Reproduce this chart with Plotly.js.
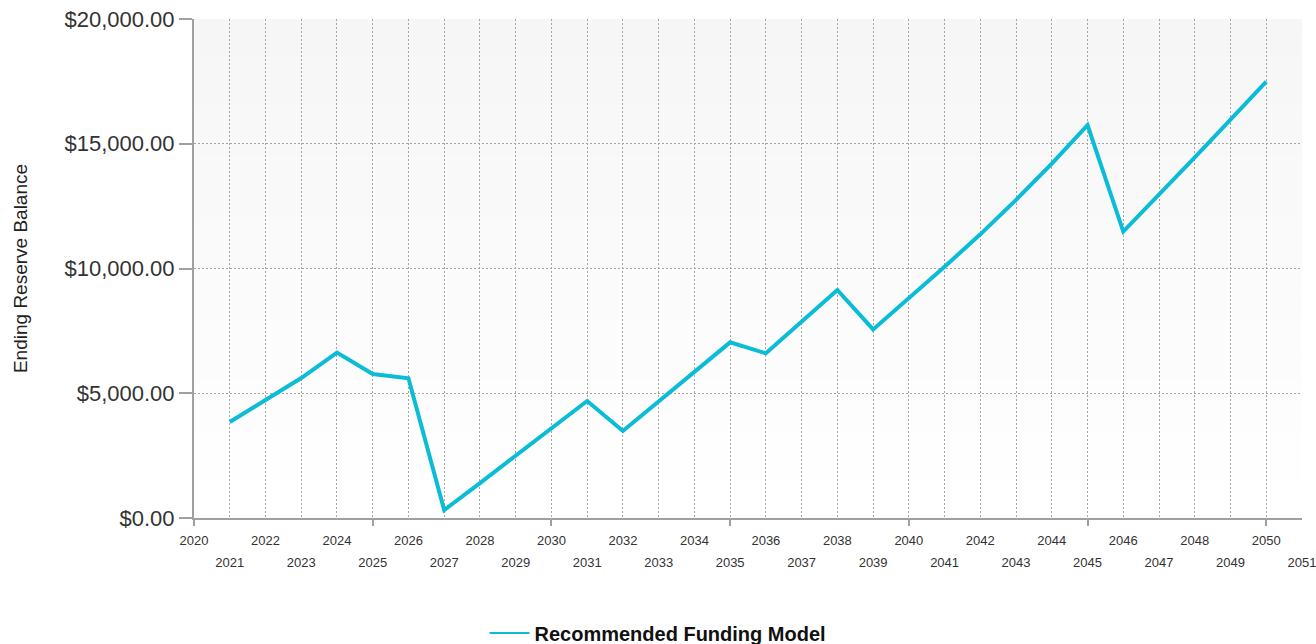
<!DOCTYPE html>
<html><head><meta charset="utf-8">
<script src="https://cdn.plot.ly/plotly-3.0.1.min.js"></script>
<style>html,body{margin:0;padding:0;background:#fff}#chart{width:1316px;height:644px}</style>
</head><body><div id="chart"></div>
<script>
const years = [2021,2022,2023,2024,2025,2026,2027,2028,2029,2030,2031,2032,2033,2034,2035,2036,2037,2038,2039,2040,2041,2042,2043,2044,2045,2046,2047,2048,2049,2050];
const balances = [3850,4730,5610,6630,5770,5600,320,1400,2480,3560,4690,3490,4670,5880,7040,6600,7870,9140,7560,8800,10070,11370,12750,14200,15750,11480,12950,14450,15970,17490];
const seriesName = 'Recommended Funding Model';
const evenTickYears = [2020,2022,2024,2026,2028,2030,2032,2034,2036,2038,2040,2042,2044,2046,2048,2050];
const oddTickYears = [2021,2023,2025,2027,2029,2031,2033,2035,2037,2039,2041,2043,2045,2047,2049,2051];
const gridYears = [2020,2021,2022,2023,2024,2025,2026,2027,2028,2029,2030,2031,2032,2033,2034,2035,2036,2037,2038,2039,2040,2041,2042,2043,2044,2045,2046,2047,2048,2049,2050,2051];
const majorTickYears = [2020,2025,2030,2035,2040,2045,2050];

const lineColor = '#0bbcd6';
const shapes = [];
const N = 40;
for (let i=0;i<N;i++){
  const t = i/(N-1);
  const v = Math.round(255 - 9*t);
  shapes.push({type:'rect', xref:'paper', yref:'paper', x0:0, x1:1, y0:i/N, y1:(i+1)/N,
    fillcolor:`rgb(${v},${v},${v})`, line:{width:0}, layer:'below'});
}

const traces = [
  {x: years, y: balances, type:'scatter', mode:'lines', line:{color:lineColor, width:4}, showlegend:false, hoverinfo:'x+y'},
  {x: [null], y: [null], type:'scatter', mode:'lines', name: seriesName, line:{color:lineColor, width:2}, showlegend:true},
  {x: [2020], y: [null], type:'scatter', mode:'lines', xaxis:'x2', showlegend:false, hoverinfo:'skip'},
  {x: [2020], y: [null], type:'scatter', mode:'lines', xaxis:'x3', showlegend:false, hoverinfo:'skip'},
  {x: [2020], y: [null], type:'scatter', mode:'lines', xaxis:'x4', showlegend:false, hoverinfo:'skip'}
];

const gridStyle = {gridcolor:'#a4a4a4', griddash:'2px,2px', gridwidth:1};
const tickFont = {size:13, color:'#333'};
const layout = {
  width:1316, height:644,
  margin:{l:194, r:14, t:19, b:126},
  paper_bgcolor:'#ffffff', plot_bgcolor:'rgba(0,0,0,0)',
  font:{family:'"Liberation Sans", Arial, sans-serif', color:'#333'},
  shapes: shapes,
  xaxis:{
    range:[2020,2051], tickmode:'array', tickvals: gridYears, showticklabels:false,
    ticks:'', showgrid:true, ...gridStyle,
    showline:true, linecolor:'#a0a0a0', linewidth:2, zeroline:false
  },
  xaxis2:{
    overlaying:'x', anchor:'y', side:'bottom', range:[2020,2051],
    tickmode:'array', tickvals: majorTickYears, ticks:'outside', ticklen:7, tickwidth:2, tickcolor:'#a0a0a0',
    showticklabels:false, showgrid:false, zeroline:false, showline:false
  },
  xaxis3:{
    overlaying:'x', anchor:'y', side:'bottom', range:[2020,2051],
    tickmode:'array', tickvals: evenTickYears, ticks:'', ticklabelstandoff:13, ticklabeloverflow:'allow',
    tickfont: tickFont, showgrid:false, zeroline:false, showline:false
  },
  xaxis4:{
    overlaying:'x', anchor:'y', side:'bottom', range:[2020,2051],
    tickmode:'array', tickvals: oddTickYears, ticks:'', ticklabelstandoff:35, ticklabeloverflow:'allow',
    tickfont: tickFont, showgrid:false, zeroline:false, showline:false
  },
  yaxis:{
    range:[0,20000], dtick:5000, tickprefix:'$', tickformat:',.2f',
    ticks:'outside', ticklen:13, tickwidth:2, tickcolor:'#a0a0a0',
    showgrid:true, ...gridStyle,
    showline:true, linecolor:'#a0a0a0', linewidth:2, zeroline:false,
    tickfont:{size:22, color:'#333'},
    title:{text:'Ending Reserve Balance', font:{size:19, color:'#222'}, standoff:32}
  },
  legend:{orientation:'h', xref:'container', yref:'container', x:0.5, xanchor:'center', y:0.017, yanchor:'middle',
    itemwidth:40, font:{size:20, color:'#111', weight:'bold'}},
  showlegend:true
};
Plotly.newPlot('chart', traces, layout, {displayModeBar:false, staticPlot:true});
</script></body></html>
